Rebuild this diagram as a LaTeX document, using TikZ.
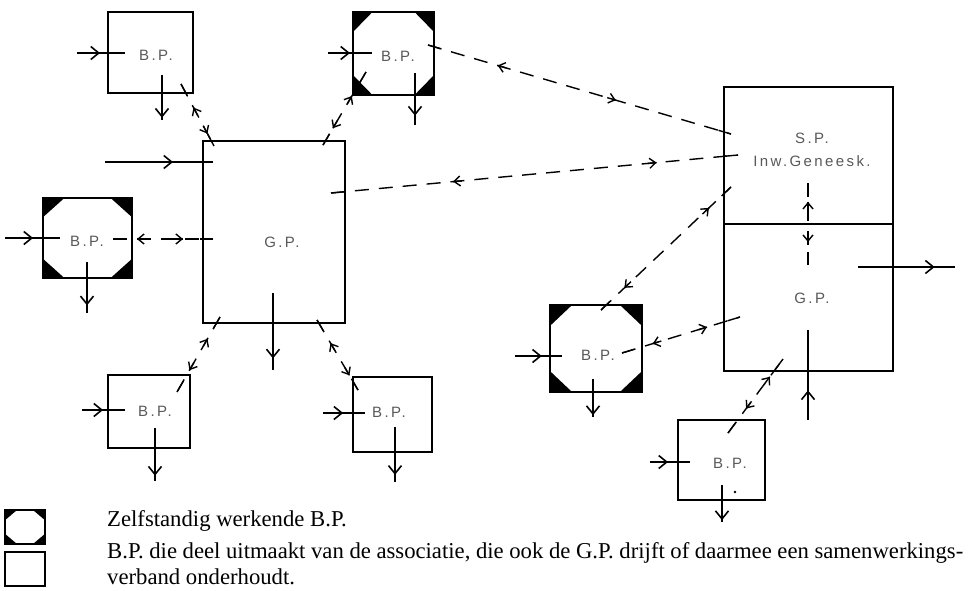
\documentclass[tikz,border=0pt]{standalone}
\usepackage{fontspec}
\setmainfont{Liberation Serif}
\newfontfamily\labelfont[LetterSpace=16]{Liberation Sans}
\usetikzlibrary{arrows.meta,decorations.markings,calc}

\tikzset{
  flowtip/.tip={Straight Barb[length=8pt,width=13pt]},
  linktip/.tip={Straight Barb[length=6pt,width=10pt]},
  frame/.style={draw, line width=1.8pt, inner sep=0pt, outer sep=0pt},
  octbox/.style={frame, path picture={
    \foreach \c/\h/\v in {north west/north east/south west,
                          north east/north west/south east,
                          south west/south east/north west,
                          south east/south west/north east}
      \fill (path picture bounding box.\c)
        -- ($(path picture bounding box.\c)!#1!(path picture bounding box.\h)$)
        -- ($(path picture bounding box.\c)!#1!(path picture bounding box.\v)$)
        -- cycle;}},
  octbox/.default=0.24,
  lbl/.style={font=\labelfont\fontsize{15}{18}\selectfont, text=black!65, inner sep=0pt},
  legend/.style={font=\fontsize{22.7}{26}\selectfont, inner sep=0pt, anchor=base west},
  flow/.style={line width=1.6pt, postaction={decorate},
    decoration={markings, mark=at position #1 with {\arrow{flowtip}}}},
  linkline/.style 2 args={line width=1.4pt, dash pattern=on 14pt off 10pt,
    postaction={decorate},
    decoration={markings,
      mark=at position #1 with {\arrowreversed{linktip}\draw[solid,line width=1.4pt] (0,0) -- (9pt,0);},
      mark=at position #2 with {\arrow{linktip}\draw[solid,line width=1.4pt] (0,0) -- (-9pt,0);}}},
  tick/.style={line width=1.4pt},
}

% dashed two-way link between two points, with solid ends crossing the frames
\newcommand\linkab[4]{%
  \draw[linkline={#3}{#4}] (#1) -- (#2);
  \draw[tick] (#1) -- ($(#1)!13pt!(#2)$);
  \draw[tick] (#2) -- ($(#2)!13pt!(#1)$);
}

\begin{document}
\begin{tikzpicture}[x=1pt,y=-1pt]
\useasboundingbox (0,0) rectangle (973,590);
\fill[white] (0,0) rectangle (973,590);

% practices
\node[frame, minimum width=85pt, minimum height=81pt] (bp1) at (150.5,52.5) {};
\node[octbox, minimum width=81pt, minimum height=83pt] (bp2) at (393.5,53.5) {};
\node[frame, minimum width=142pt, minimum height=182pt] (gp1) at (274,232) {};
\node[octbox, minimum width=89pt, minimum height=80pt] (bp3) at (87.5,238) {};
\node[frame, minimum width=82pt, minimum height=73pt] (bp4) at (149,411.5) {};
\node[frame, minimum width=79pt, minimum height=75pt] (bp5) at (392.5,414.5) {};
\node[frame, minimum width=169pt, minimum height=137pt] (sp) at (808.5,155.5) {};
\node[frame, minimum width=169pt, minimum height=147pt] (gp2) at (808.5,297.5) {};
\node[octbox, minimum width=92pt, minimum height=87pt] (bp6) at (596,348.5) {};
\node[frame, minimum width=87pt, minimum height=80pt] (bp7) at (721.5,460) {};

% labels
\node[lbl] (bp1t) at (156,55) {B.P.};
\node[lbl] (bp2t) at (398,56) {B.P.};
\node[lbl] (gp1t) at (282,242) {G.P.};
\node[lbl] (bp3t) at (87,241) {B.P.};
\node[lbl] (bp4t) at (155,411) {B.P.};
\node[lbl] (bp5t) at (389,412) {B.P.};
\node[lbl] (spt) at (812,138) {S.P.};
\node[lbl] (spt2) at (812,161) {Inw.Geneesk.};
\node[lbl] (gp2t) at (812,298) {G.P.};
\node[lbl] (bp6t) at (598,355) {B.P.};
\node[lbl] (bp7t) at (730,463) {B.P.};
\fill (735,492) circle (1.4pt);

% flow end points
\coordinate (f1a) at (77,53);   \coordinate (f1b) at (125,53);
\coordinate (f2a) at (162,75);  \coordinate (f2b) at (162,120);
\coordinate (f3a) at (328,53);  \coordinate (f3b) at (372,53);
\coordinate (f4a) at (415,73);  \coordinate (f4b) at (415,125);
\coordinate (f5a) at (105,162); \coordinate (f5b) at (213,162);
\coordinate (f6a) at (5,238);   \coordinate (f6b) at (60,238);
\coordinate (f7a) at (87,262);  \coordinate (f7b) at (87,313);
\coordinate (f8a) at (273,293); \coordinate (f8b) at (273,370);
\coordinate (f9a) at (82,410);  \coordinate (f9b) at (125,410);
\coordinate (f10a) at (155,428); \coordinate (f10b) at (155,481);
\coordinate (f11a) at (323,413); \coordinate (f11b) at (365,413);
\coordinate (f12a) at (395,427); \coordinate (f12b) at (395,482);
\coordinate (f13a) at (858,267); \coordinate (f13b) at (955,267);
\coordinate (f14a) at (515,356); \coordinate (f14b) at (562,356);
\coordinate (f15a) at (593,379); \coordinate (f15b) at (593,417);
\coordinate (f16a) at (808,420); \coordinate (f16b) at (808,330);
\coordinate (f17a) at (650,462); \coordinate (f17b) at (690,462);
\coordinate (f18a) at (722,485); \coordinate (f18b) at (722,522);

\draw[flow=0.48] (f1a) -- (f1b);
\draw[flow=0.95] (f2a) -- (f2b);
\draw[flow=0.50] (f3a) -- (f3b);
\draw[flow=0.82] (f4a) -- (f4b);
\draw[flow=0.63] (f5a) -- (f5b);
\draw[flow=0.51] (f6a) -- (f6b);
\draw[flow=0.85] (f7a) -- (f7b);
\draw[flow=0.85] (f8a) -- (f8b);
\draw[flow=0.49] (f9a) -- (f9b);
\draw[flow=0.90] (f10a) -- (f10b);
\draw[flow=0.48] (f11a) -- (f11b);
\draw[flow=0.87] (f12a) -- (f12b);
\draw[flow=0.79] (f13a) -- (f13b);
\draw[flow=0.57] (f14a) -- (f14b);
\draw[flow=0.95] (f15a) -- (f15b);
\draw[flow=0.33] (f16a) -- (f16b);
\draw[flow=0.45] (f17a) -- (f17b);
\draw[flow=0.95] (f18a) -- (f18b);

% link end points
\coordinate (l1a) at (181,84);  \coordinate (l1b) at (214,146);
\coordinate (l2a) at (366,72);  \coordinate (l2b) at (323,145);
\coordinate (l3a) at (428,45);  \coordinate (l3b) at (731,134);
\coordinate (l4a) at (331,193); \coordinate (l4b) at (738,155);
\coordinate (l5a) at (601,310); \coordinate (l5b) at (731,187);
\coordinate (l6a) at (622,353); \coordinate (l6b) at (740,317);
\coordinate (l7a) at (728,433); \coordinate (l7b) at (783,359);
\coordinate (l8a) at (220,317); \coordinate (l8b) at (177,392);
\coordinate (l9a) at (317,320); \coordinate (l9b) at (358,390);
\coordinate (l10a) at (113,239); \coordinate (l10b) at (213,239);
\coordinate (l11a) at (808,183); \coordinate (l11b) at (808,265);

\linkab{l1a}{l1b}{0.38}{0.80}
\linkab{l2a}{l2b}{0.33}{0.77}
\linkab{l3a}{l3b}{0.23}{0.62}
\linkab{l4a}{l4b}{0.30}{0.80}
\linkab{l5a}{l5b}{0.18}{0.83}
\linkab{l6a}{l6b}{0.26}{0.72}
\linkab{l7a}{l7b}{0.33}{0.76}
\linkab{l8a}{l8b}{0.29}{0.71}
\linkab{l9a}{l9b}{0.33}{0.79}
\linkab{l10a}{l10b}{0.24}{0.70}
\linkab{l11a}{l11b}{0.23}{0.72}

% legend
\node[octbox=0.3, minimum width=40pt, minimum height=34pt] (key1) at (25,527) {};
\node[frame, minimum width=40pt, minimum height=34pt] (key2) at (25,569) {};
\node[legend] (key1t) at (107,526) {Zelfstandig werkende B.P.};
\node[legend] (key2t) at (107,558) {\makebox[856pt][s]{B.P. die deel uitmaakt van de associatie, die ook de G.P. drijft of daarmee een samenwerkings-}};
\node[legend] (key2u) at (107,584) {verband onderhoudt.};
\end{tikzpicture}
\end{document}
